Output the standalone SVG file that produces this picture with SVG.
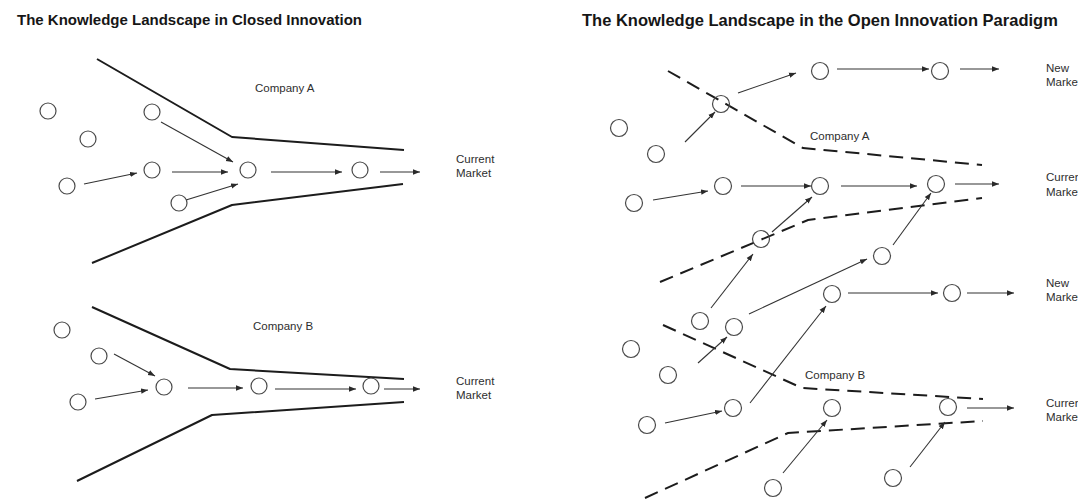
<svg xmlns="http://www.w3.org/2000/svg" width="1078" height="500" viewBox="0 0 1078 500">
  <defs>
    <marker id="arrow" viewBox="0 0 10 10" refX="10" refY="5" markerWidth="7" markerHeight="7" markerUnits="userSpaceOnUse" orient="auto">
      <path d="M0,1.2 L10,5 L0,8.8 z" fill="#2a2a2a"/>
    </marker>
    <style>
      .title { font-family: "Liberation Sans", Arial, sans-serif; font-weight: bold; fill: #161616; }
      .label { font-family: "Liberation Sans", Arial, sans-serif; font-size: 11.5px; fill: #2e2e2e; }
      .node { fill: none; stroke: #4a4a4a; stroke-width: 1.2; }
      .wall { fill: none; stroke: #1c1c1c; stroke-width: 2; stroke-linejoin: round; }
      .dash { fill: none; stroke: #1c1c1c; stroke-width: 2; stroke-dasharray: 14 8; }
      .flow { fill: none; stroke: #333; stroke-width: 1.1; marker-end: url(#arrow); }
    </style>
  </defs>
  <rect width="1078" height="500" fill="#ffffff"/>

  <!-- Titles -->
  <text class="title" x="17" y="25" font-size="15">The Knowledge Landscape in Closed Innovation</text>
  <text class="title" x="582" y="26" font-size="16.5">The Knowledge Landscape in the Open Innovation Paradigm</text>

  <!-- Company boundaries -->
  <g id="boundaries">
    <polyline class="wall" points="97,59 232,137 404,150"/>
    <polyline class="wall" points="92,263 232,205 403,184"/>
    <polyline class="wall" points="92,307 230,369 404,379"/>
    <polyline class="wall" points="77,481 212,415 404,402"/>
    <polyline class="dash" points="668,71 803,148 982,165"/>
    <polyline class="dash" points="660,282 808,220 982,198"/>
    <polyline class="dash" points="663,325 802,388 983,399"/>
    <polyline class="dash" points="645,498 788,433 983,421"/>
  </g>

  <!-- Knowledge flows -->
  <g id="connectors">
    <!-- closed innovation, company A -->
    <line class="flow" x1="84" y1="184" x2="137" y2="173"/>
    <line class="flow" x1="161" y1="122" x2="233" y2="162"/>
    <line class="flow" x1="172" y1="172" x2="228" y2="172"/>
    <line class="flow" x1="186" y1="200" x2="238" y2="184"/>
    <line class="flow" x1="271" y1="172" x2="342" y2="172"/>
    <line class="flow" x1="380" y1="172" x2="420" y2="172"/>
    <!-- closed innovation, company B -->
    <line class="flow" x1="114" y1="354" x2="155" y2="376"/>
    <line class="flow" x1="95" y1="399" x2="148" y2="390"/>
    <line class="flow" x1="188" y1="388" x2="243" y2="388"/>
    <line class="flow" x1="275" y1="389" x2="356" y2="389"/>
    <line class="flow" x1="384" y1="389" x2="420" y2="389"/>
    <!-- open innovation -->
    <line class="flow" x1="738" y1="93" x2="796" y2="73"/>
    <line class="flow" x1="685" y1="142" x2="715" y2="112"/>
    <line class="flow" x1="837" y1="69" x2="929" y2="69"/>
    <line class="flow" x1="960" y1="69" x2="999" y2="69"/>
    <line class="flow" x1="653" y1="200" x2="708" y2="191"/>
    <line class="flow" x1="741" y1="186" x2="811" y2="186"/>
    <line class="flow" x1="841" y1="186" x2="917" y2="186"/>
    <line class="flow" x1="955" y1="184" x2="999" y2="184"/>
    <line class="flow" x1="772" y1="232" x2="812" y2="197"/>
    <line class="flow" x1="893" y1="245" x2="931" y2="193"/>
    <line class="flow" x1="711" y1="308" x2="753" y2="254"/>
    <line class="flow" x1="749" y1="314" x2="867" y2="259"/>
    <line class="flow" x1="698" y1="363" x2="727" y2="337"/>
    <line class="flow" x1="750" y1="403" x2="826" y2="306"/>
    <line class="flow" x1="848" y1="293" x2="938" y2="293"/>
    <line class="flow" x1="967" y1="293" x2="1014" y2="293"/>
    <line class="flow" x1="665" y1="423" x2="722" y2="411"/>
    <line class="flow" x1="967" y1="408" x2="1014" y2="408"/>
    <line class="flow" x1="783" y1="473" x2="827" y2="420"/>
    <line class="flow" x1="910" y1="467" x2="945" y2="422"/>
  </g>

  <!-- Closed innovation: Company A -->
  <g id="closed-a-1"><circle class="node" cx="48" cy="111" r="8"/></g>
  <g id="closed-a-2"><circle class="node" cx="88" cy="139" r="8"/></g>
  <g id="closed-a-3"><circle class="node" cx="67" cy="186" r="8"/></g>
  <g id="closed-a-4"><circle class="node" cx="152" cy="112" r="8"/></g>
  <g id="closed-a-5"><circle class="node" cx="152" cy="170" r="8"/></g>
  <g id="closed-a-6"><circle class="node" cx="179" cy="203" r="8"/></g>
  <g id="closed-a-7"><circle class="node" cx="248" cy="170" r="8"/></g>
  <g id="closed-a-8"><circle class="node" cx="360" cy="170" r="8"/></g>
  <g id="closed-a-name"><text class="label" x="255" y="92">Company A</text></g>
  <g id="closed-a-market"><text class="label" x="456" y="163">Current</text><text class="label" x="456" y="177">Market</text></g>

  <!-- Closed innovation: Company B -->
  <g id="closed-b-1"><circle class="node" cx="62" cy="330" r="8"/></g>
  <g id="closed-b-2"><circle class="node" cx="99" cy="356" r="8"/></g>
  <g id="closed-b-3"><circle class="node" cx="78" cy="402" r="8"/></g>
  <g id="closed-b-4"><circle class="node" cx="164" cy="387" r="8"/></g>
  <g id="closed-b-5"><circle class="node" cx="259" cy="386" r="8"/></g>
  <g id="closed-b-6"><circle class="node" cx="371" cy="386" r="8"/></g>
  <g id="closed-b-name"><text class="label" x="253" y="330">Company B</text></g>
  <g id="closed-b-market"><text class="label" x="456" y="385">Current</text><text class="label" x="456" y="399">Market</text></g>

  <!-- Open innovation -->
  <g id="open-1"><circle class="node" cx="721" cy="104" r="8.5"/></g>
  <g id="open-2"><circle class="node" cx="820" cy="71" r="8.5"/></g>
  <g id="open-3"><circle class="node" cx="940" cy="71" r="8.5"/></g>
  <g id="open-4"><circle class="node" cx="619" cy="128" r="8.5"/></g>
  <g id="open-5"><circle class="node" cx="656" cy="154" r="8.5"/></g>
  <g id="open-6"><circle class="node" cx="634" cy="203" r="8.5"/></g>
  <g id="open-7"><circle class="node" cx="723" cy="186" r="8.5"/></g>
  <g id="open-8"><circle class="node" cx="820" cy="186" r="8.5"/></g>
  <g id="open-9"><circle class="node" cx="936" cy="184" r="8.5"/></g>
  <g id="open-10"><circle class="node" cx="761" cy="239" r="8.5"/></g>
  <g id="open-11"><circle class="node" cx="882" cy="256" r="8.5"/></g>
  <g id="open-12"><circle class="node" cx="700" cy="321" r="8.5"/></g>
  <g id="open-13"><circle class="node" cx="734" cy="327" r="8.5"/></g>
  <g id="open-14"><circle class="node" cx="832" cy="294" r="8.5"/></g>
  <g id="open-15"><circle class="node" cx="952" cy="293" r="8.5"/></g>
  <g id="open-16"><circle class="node" cx="631" cy="349" r="8.5"/></g>
  <g id="open-17"><circle class="node" cx="668" cy="375" r="8.5"/></g>
  <g id="open-18"><circle class="node" cx="733" cy="408" r="8.5"/></g>
  <g id="open-19"><circle class="node" cx="647" cy="425" r="8.5"/></g>
  <g id="open-20"><circle class="node" cx="832" cy="408" r="8.5"/></g>
  <g id="open-21"><circle class="node" cx="948" cy="407" r="8.5"/></g>
  <g id="open-22"><circle class="node" cx="773" cy="488" r="8.5"/></g>
  <g id="open-23"><circle class="node" cx="893" cy="478" r="8.5"/></g>
  <g id="open-a-name"><text class="label" x="810" y="140">Company A</text></g>
  <g id="open-b-name"><text class="label" x="805" y="379">Company B</text></g>
  <g id="open-market-1"><text class="label" x="1046" y="72">New</text><text class="label" x="1046" y="86">Market</text></g>
  <g id="open-market-2"><text class="label" x="1046" y="181">Current</text><text class="label" x="1046" y="196">Market</text></g>
  <g id="open-market-3"><text class="label" x="1046" y="287">New</text><text class="label" x="1046" y="301">Market</text></g>
  <g id="open-market-4"><text class="label" x="1046" y="407">Current</text><text class="label" x="1046" y="421">Market</text></g>
</svg>
